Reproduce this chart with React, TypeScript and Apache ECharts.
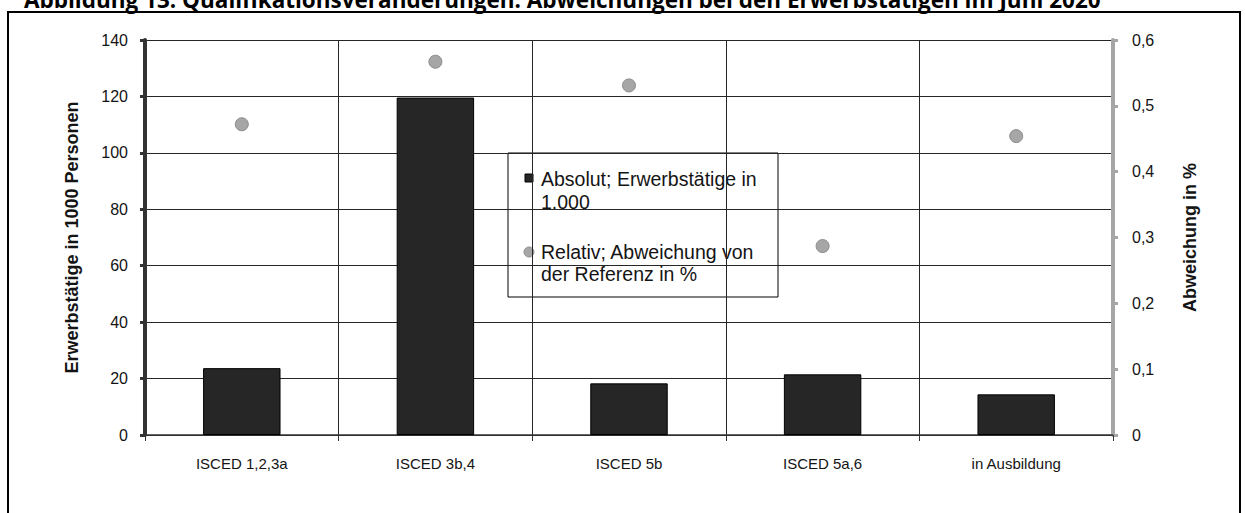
import React, { useEffect, useRef } from "react";
import * as echarts from "echarts";

// Qualification groups on the category axis
const categories = ["ISCED 1,2,3a", "ISCED 3b,4", "ISCED 5b", "ISCED 5a,6", "in Ausbildung"];
// Absolute deviation, employed persons in 1.000
const absoluteValues = [23.7, 119.6, 18.3, 21.5, 14.4];
// Relative deviation from the reference, in %
const relativeValues = [0.472, 0.567, 0.531, 0.287, 0.454];

const leftTicks = { min: 0, max: 140, interval: 20 };
const rightTicks = { min: 0, max: 0.6, interval: 0.1 };

const titleText =
  "Abbildung 13: Qualifikationsveränderungen: Abweichungen bei den Erwerbstätigen im Juni 2020";
const legendAbsolute = ["Absolut; Erwerbstätige in", "1.000"];
const legendRelative = ["Relativ; Abweichung von", "der Referenz in %"];

const FONT = "Arial, 'Liberation Sans', sans-serif";

export default function App() {
  const ref = useRef<HTMLDivElement>(null);

  useEffect(() => {
    if (!ref.current) return;
    const chart = echarts.init(ref.current, undefined, { renderer: "svg" });

    const legendText = (x: number, y: number, text: string) => ({
      type: "text",
      x,
      y,
      style: {
        text,
        font: `19.5px ${FONT}`,
        fill: "#141414",
        verticalAlign: "middle",
      },
    });

    chart.setOption({
      animation: false,
      backgroundColor: "#ffffff",
      grid: { left: 145, right: 132, top: 40, bottom: 78, containLabel: false },
      xAxis: {
        type: "category",
        data: categories,
        boundaryGap: true,
        axisLine: { lineStyle: { color: "#333333", width: 1.5 } },
        axisTick: { show: true, length: 6, lineStyle: { color: "#333333" } },
        axisLabel: { fontFamily: FONT, fontSize: 15, color: "#141414", margin: 21 },
        splitLine: { show: true, lineStyle: { color: "#262626", width: 1 } },
      },
      yAxis: [
        {
          type: "value",
          ...leftTicks,
          position: "left",
          name: "Erwerbstätige in 1000 Personen",
          nameLocation: "middle",
          nameRotate: 90,
          nameGap: 64,
          nameTextStyle: { fontFamily: FONT, fontSize: 18, fontWeight: "bold", color: "#141414" },
          axisLine: { show: true, lineStyle: { color: "#333333", width: 4 } },
          axisTick: { show: true, length: 5, lineStyle: { color: "#333333", width: 3 } },
          axisLabel: { fontFamily: FONT, fontSize: 16, color: "#141414", margin: 17 },
          splitLine: { show: true, lineStyle: { color: "#262626", width: 1 } },
        },
        {
          type: "value",
          ...rightTicks,
          position: "right",
          name: "Abweichung in %",
          nameLocation: "middle",
          nameRotate: 90,
          nameGap: 68,
          nameTextStyle: { fontFamily: FONT, fontSize: 18, fontWeight: "bold", color: "#141414" },
          axisLine: { show: true, lineStyle: { color: "#a6a6a6", width: 4 } },
          axisTick: { show: true, length: 5, lineStyle: { color: "#a6a6a6", width: 3 } },
          axisLabel: {
            fontFamily: FONT,
            fontSize: 16,
            color: "#141414",
            margin: 19,
            formatter: (v: number) => (v === 0 ? "0" : v.toFixed(1).replace(".", ",")),
          },
          splitLine: { show: false },
        },
      ],
      series: [
        {
          name: "Absolut; Erwerbstätige in 1.000",
          type: "bar",
          data: absoluteValues,
          yAxisIndex: 0,
          barWidth: "40%",
          itemStyle: { color: "#262626", borderColor: "#000000", borderWidth: 1 },
          z: 3,
        },
        {
          name: "Relativ; Abweichung von der Referenz in %",
          type: "scatter",
          data: relativeValues,
          yAxisIndex: 1,
          symbol: "circle",
          symbolSize: 13,
          itemStyle: { color: "#a6a6a6", borderColor: "#8c8c8c", borderWidth: 1, opacity: 1 },
          z: 4,
        },
      ],
      graphic: [
        {
          type: "text",
          x: 24,
          y: -12,
          style: {
            text: titleText,
            font: `bold 22.5px 'Open Sans', sans-serif`,
            fill: "#000000",
          },
        },
        {
          type: "rect",
          shape: { x: 8, y: 12, width: 1232, height: 520 },
          style: { fill: "none", stroke: "#000000", lineWidth: 2 },
          silent: true,
        },
        {
          type: "group",
          z: 10,
          children: [
            {
              type: "rect",
              shape: { x: 508, y: 153, width: 270, height: 144 },
              style: { fill: "#ffffff", stroke: "#000000", lineWidth: 1 },
            },
            {
              type: "rect",
              shape: { x: 525, y: 174, width: 8, height: 8 },
              style: { fill: "#262626", stroke: "#000000", lineWidth: 1 },
            },
            legendText(541, 179, legendAbsolute[0]),
            legendText(541, 202, legendAbsolute[1]),
            {
              type: "circle",
              shape: { cx: 529, cy: 252, r: 5 },
              style: { fill: "#a6a6a6", stroke: "#8c8c8c", lineWidth: 1 },
            },
            legendText(541, 252, legendRelative[0]),
            legendText(541, 274, legendRelative[1]),
          ],
        },
      ],
    });

    return () => chart.dispose();
  }, []);

  return (
    <div
      ref={ref}
      style={{ position: "fixed", left: 0, top: 0, width: 1245, height: 513, background: "#fff" }}
    />
  );
}
